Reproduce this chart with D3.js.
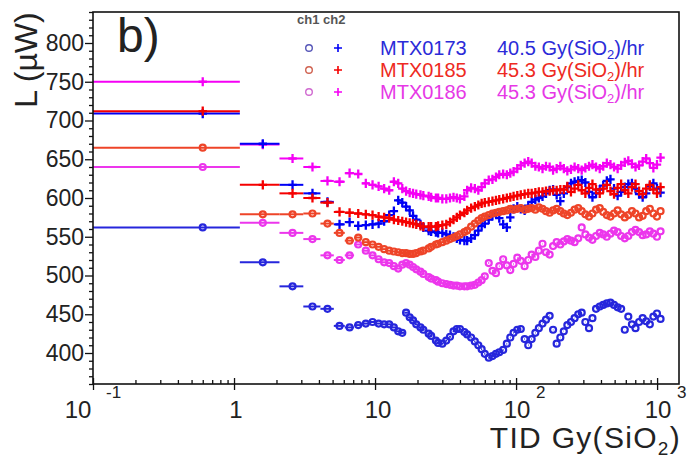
<!DOCTYPE html>
<html>
<head>
<meta charset="utf-8">
<script src="https://cdn.jsdelivr.net/npm/d3@7/dist/d3.min.js"></script>
<style>
  html, body { margin: 0; padding: 0; background: #fff; }
  svg { display: block; }
  text { font-family: "Liberation Sans", Arial, Helvetica, sans-serif; }
</style>
</head>
<body>
<svg id="chart" width="687" height="466"></svg>
<script>
// Dose bin centres, Gy(SiO2); each bin is 1 Gy wide
const doses = [
  0.6, 1.6, 2.6, 3.6, 4.6, 5.6, 6.6, 7.6, 8.6, 9.6,
  10.6, 11.6, 12.6, 13.6, 14.6, 15.6, 16.6, 17.6, 18.6, 19.6,
  21, 22, 24, 25, 27, 28, 30, 32, 34, 36,
  38, 40, 43, 45, 48, 51, 54, 57, 60, 64,
  68, 72, 76, 81, 86, 91, 96, 102, 108, 115,
  122, 129, 137, 145, 154, 163, 173, 183, 194, 206,
  218, 231, 245, 260, 276, 292, 310, 329, 348, 369,
  392, 415, 440, 467, 495, 525, 556, 590, 625, 663,
  703, 745, 790, 837, 888, 941, 998, 1058
];
const binHalfWidth = 0.5;

// Light output L (uW) per device and channel
const mtx0173Ch1 = [
  562, 517, 486, 460, 457, 435, 433, 436, 438, 440,
  438, 437, 437, 433, 428, 426, 452, 446, 442, 437,
  433, 430, 425, 422, 416, 413, 412, 416, 421, 428,
  431, 431, 427, 424, 420, 415, 410, 405, 399, 394,
  396, 399, 401, 404, 412, 420, 426, 430, 431, 418,
  410, 418, 426, 432, 438, 443, 448, 430, 412, 420,
  428, 436, 440, 445, 450, 452, 440, 432, 445, 457,
  460, 462, 464, 465, 462, 459, 457, 430, 447, 437,
  432, 440, 445, 441, 437, 447, 451, 444
];
const mtx0173Ch2 = [
  709, 670, 617, 606, 595, 566, 569, 564, 565, 566,
  567, 570, 578, 583, 597, 594, 589, 584, 577, 572,
  566, 562, 558, 557, 556, 555, 555, 553, 552, 550,
  548, 546, 545, 545, 548, 552, 558, 564, 567, 572,
  577, 580, 574, 566, 562, 575, 586, 589, 586, 584,
  590, 595, 598, 600, 602, 606, 610, 611, 604, 596,
  606, 614, 619, 621, 622, 623, 620, 608, 601, 606,
  611, 616, 622, 624, 612, 603, 608, 614, 618, 619,
  612, 605, 601, 606, 615, 619, 612, 607
];
const mtx0185Ch1 = [
  665, 579, 579, 580, 567, 555, 545, 549, 543, 540,
  537, 534, 532, 531, 530, 529, 529, 528, 528, 529,
  531, 532, 535, 537, 540, 541, 543, 545, 547, 549,
  551, 553, 556, 558, 563, 567, 571, 574, 576, 578,
  580, 581, 582, 583, 584, 586, 585, 586, 587, 585,
  586, 587, 585, 588, 586, 583, 581, 584, 586, 583,
  580, 578, 581, 585, 587, 583, 579, 576, 580, 585,
  587, 582, 578, 576, 580, 584, 579, 575, 578, 583,
  580, 575, 577, 583, 586, 580, 576, 583
];
const mtx0185Ch2 = [
  712, 617, 606, 600, 594, 582, 581, 580, 579, 578,
  576, 575, 574, 572, 571, 570, 569, 568, 567, 566,
  564, 563, 563, 563, 563, 564, 565, 566, 569, 572,
  575, 578, 581, 584, 587, 589, 591, 593, 594, 595,
  596, 597, 598, 599, 600, 601, 602, 603, 604, 605,
  606, 606, 607, 608, 608, 609, 609, 610, 610, 611,
  611, 615, 608, 612, 617, 610, 606, 613, 618, 611,
  606, 612, 617, 609, 605, 613, 618, 610, 606, 614,
  618, 609, 605, 612, 617, 611, 606, 614
];
const mtx0186Ch1 = [
  640, 568, 555, 547, 526, 520, 526, 540, 532, 526,
  521, 517, 516, 512, 509, 514, 516, 514, 511, 508,
  505, 502, 498, 496, 494, 492, 490, 489, 488, 487,
  487, 486, 486, 486, 487, 488, 491, 494, 499, 516,
  506, 503, 512, 521, 513, 507, 515, 523, 519, 512,
  520, 527, 524, 532, 541, 530, 527, 538, 543, 540,
  544, 547, 545, 543, 548, 562, 553, 549, 546, 551,
  555, 553, 550, 554, 558, 556, 551, 548, 551, 556,
  559, 556, 552, 553, 557, 554, 550, 557
];
const mtx0186Ch2 = [
  750, 669, 651, 640, 622, 621, 632, 631, 619, 617,
  615, 612, 610, 621, 619, 612, 609, 607, 606, 605,
  604, 603, 602, 601, 600, 600, 599, 599, 600, 601,
  600, 599, 602, 610, 613, 612, 610, 614, 619, 623,
  624, 627, 630, 631, 630, 632, 634, 638, 642, 645,
  647, 645, 641, 640, 638, 641, 640, 636, 638, 641,
  638, 635, 637, 640, 638, 636, 639, 641, 643, 640,
  638, 641, 645, 643, 640, 638, 642, 646, 648, 644,
  640, 642, 647, 651, 645, 639, 643, 652
];

// Legend entries
const devices = ["MTX0173", "MTX0185", "MTX0186"];
const doseRates = ["40.5", "45.3", "45.3"];

// Axis ticks
const yMajorTicks = [400, 450, 500, 550, 600, 650, 700, 750, 800];
const xMajorTicks = [0.1, 1, 10, 100, 1000];
const xTickBase = ["10", "1", "10", "10", "10"];
const xTickExp = ["-1", "", "", "2", "3"];

// Colours per device: channel 1 (circles), channel 2 (crosses)
const palette = {
  MTX0173: { ch1: "#2626dc", ch2: "#0000f5", legend1: "#5656b8", text: "#2b2bd8" },
  MTX0185: { ch1: "#ee4428", ch2: "#f50000", legend1: "#d06250", text: "#ee2a22" },
  MTX0186: { ch1: "#ec36ec", ch2: "#f500f5", legend1: "#d06ad0", text: "#e638e6" }
};

const series = [
  { device: "MTX0186", ch: 1, values: mtx0186Ch1 },
  { device: "MTX0186", ch: 2, values: mtx0186Ch2 },
  { device: "MTX0173", ch: 1, values: mtx0173Ch1 },
  { device: "MTX0173", ch: 2, values: mtx0173Ch2 },
  { device: "MTX0185", ch: 1, values: mtx0185Ch1 },
  { device: "MTX0185", ch: 2, values: mtx0185Ch2 }
];

const svg = d3.select("#chart");
const plot = { left: 93, right: 679, top: 12, bottom: 384 };

const x = d3.scaleLog().domain([0.1, 1430]).range([plot.left, plot.right]);
const y = d3.scaleLinear().domain([360, 840]).range([plot.bottom, plot.top]);

svg.append("rect").attr("width", 687).attr("height", 466).attr("fill", "#fff");

svg.append("defs").append("clipPath").attr("id", "plotClip")
  .append("rect")
  .attr("x", plot.left).attr("y", plot.top)
  .attr("width", plot.right - plot.left).attr("height", plot.bottom - plot.top);

// Legend background
svg.append("rect")
  .attr("x", 293).attr("y", 36).attr("width", 372).attr("height", 66)
  .attr("fill", "#fff");

// Data: horizontal bin bars plus markers
const dataLayer = svg.append("g").attr("clip-path", "url(#plotClip)");
const plusPath = "M-4.2,0H4.2M0,-4.6V4.6";

series.forEach(s => {
  const col = s.ch === 1 ? palette[s.device].ch1 : palette[s.device].ch2;
  const pts = doses.map((d, i) => ({ d, v: s.values[i] })).filter(p => p.v != null);
  const g = dataLayer.append("g");

  g.selectAll("line.bin").data(pts).join("line")
    .attr("class", "bin")
    .attr("x1", p => x(p.d - binHalfWidth))
    .attr("x2", p => x(p.d + binHalfWidth))
    .attr("y1", p => y(p.v)).attr("y2", p => y(p.v))
    .attr("stroke", col).attr("stroke-width", 2);

  if (s.ch === 1) {
    g.selectAll("circle").data(pts).join("circle")
      .attr("cx", p => x(p.d)).attr("cy", p => y(p.v))
      .attr("r", 3)
      .attr("fill", "none").attr("stroke", col).attr("stroke-width", 2.2);
  } else {
    g.selectAll("path").data(pts).join("path")
      .attr("transform", p => `translate(${x(p.d)},${y(p.v)})`)
      .attr("d", plusPath)
      .attr("fill", "none").attr("stroke", col).attr("stroke-width", 2.3);
  }
});

// Frame
svg.append("rect")
  .attr("x", plot.left).attr("y", plot.top)
  .attr("width", plot.right - plot.left).attr("height", plot.bottom - plot.top)
  .attr("fill", "none").attr("stroke", "#111").attr("stroke-width", 1.6);

// Y axis
const yMinor = d3.range(360, 841, 10).filter(v => !yMajorTicks.includes(v));
const yAxisMajor = svg.append("g")
  .attr("transform", `translate(${plot.left},0)`)
  .call(d3.axisLeft(y).tickValues(yMajorTicks).tickSize(8).tickPadding(1).tickFormat(d3.format("d")));
const yAxisMinor = svg.append("g")
  .attr("transform", `translate(${plot.left},0)`)
  .call(d3.axisLeft(y).tickValues(yMinor).tickSize(4).tickFormat(""));
[yAxisMajor, yAxisMinor].forEach(a => {
  a.select(".domain").remove();
  a.selectAll(".tick line").attr("stroke", "#111").attr("stroke-width", 1.3);
});
yAxisMajor.selectAll(".tick text")
  .attr("font-size", 23).attr("fill", "#222")
  .style("font-family", "'Liberation Sans', Arial, sans-serif");

// X axis: decade ticks both sides, minor ticks inward
const xMinor = [];
[0.1, 1, 10, 100].forEach(dec => { for (let k = 2; k <= 9; k++) xMinor.push(dec * k); });
const xDown = svg.append("g").attr("transform", `translate(0,${plot.bottom})`)
  .call(d3.axisBottom(x).tickValues(xMajorTicks).tickSize(6).tickFormat(""));
const xUpMajor = svg.append("g").attr("transform", `translate(0,${plot.bottom})`)
  .call(d3.axisTop(x).tickValues(xMajorTicks).tickSize(6).tickFormat(""));
const xUpMinor = svg.append("g").attr("transform", `translate(0,${plot.bottom})`)
  .call(d3.axisTop(x).tickValues(xMinor).tickSize(4).tickFormat(""));
[xDown, xUpMajor, xUpMinor].forEach(a => {
  a.select(".domain").remove();
  a.selectAll(".tick line").attr("stroke", "#111").attr("stroke-width", 1.3);
});

// X tick labels with powers of ten
const baseShift = { "-1": -15, "": 2, "2": 1, "3": 1 };
const xLabels = svg.append("g").attr("fill", "#222");
xMajorTicks.forEach((v, i) => {
  const exp = xTickExp[i];
  const dx = exp === "" ? (xTickBase[i] === "1" ? 2 : 3) : baseShift[exp];
  xLabels.append("text")
    .attr("x", x(v) + dx).attr("y", 418)
    .attr("text-anchor", "middle").attr("font-size", 24)
    .text(xTickBase[i]);
  if (exp !== "") {
    xLabels.append("text")
      .attr("x", x(v) + (exp === "-1" ? 13 : 20)).attr("y", 398)
      .attr("font-size", 17)
      .text(exp);
  }
});

// Axis titles
const xTitle = svg.append("text")
  .attr("x", 681).attr("y", 448)
  .attr("text-anchor", "end").attr("font-size", 30)
  .attr("letter-spacing", 1.3).attr("fill", "#222");
xTitle.append("tspan").text("TID Gy(SiO");
xTitle.append("tspan").attr("font-size", 19).attr("dy", 7).text("2");
xTitle.append("tspan").attr("dy", -7).text(")");

svg.append("text")
  .attr("transform", "translate(37,60) rotate(-90)")
  .attr("text-anchor", "middle").attr("font-size", 32).attr("fill", "#222")
  .text("L (\u00b5W)");

// Panel tag
svg.append("text")
  .attr("x", 117).attr("y", 52)
  .attr("font-size", 48).attr("fill", "#222")
  .text("b)");

// Legend
const legend = svg.append("g");
legend.append("text")
  .attr("x", 297).attr("y", 24)
  .attr("font-size", 13).attr("font-weight", "bold").attr("fill", "#555")
  .text("ch1 ch2");

devices.forEach((dev, i) => {
  const cy = 48 + i * 22;
  const pc = palette[dev];
  legend.append("circle")
    .attr("cx", 309).attr("cy", cy).attr("r", 3.3)
    .attr("fill", "none").attr("stroke", pc.legend1).attr("stroke-width", 1.4);
  legend.append("path")
    .attr("transform", `translate(338,${cy})`)
    .attr("d", "M-4,0H4M0,-4V4")
    .attr("fill", "none").attr("stroke", pc.ch2).attr("stroke-width", 1.6);
  legend.append("text")
    .attr("x", 380).attr("y", cy + 7)
    .attr("font-size", 20).attr("fill", pc.text)
    .text(dev);
  const rate = legend.append("text")
    .attr("x", 497).attr("y", cy + 7)
    .attr("font-size", 20).attr("fill", pc.text);
  rate.append("tspan").text(`${doseRates[i]} Gy(SiO`);
  rate.append("tspan").attr("font-size", 13).attr("dy", 4).text("2");
  rate.append("tspan").attr("dy", -4).text(")/hr");
});
</script>
</body>
</html>
